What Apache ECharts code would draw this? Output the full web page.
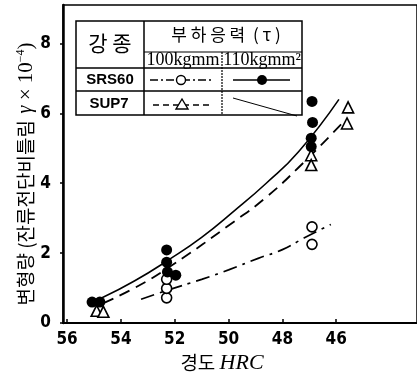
<!DOCTYPE html>
<html>
<head>
<meta charset="utf-8">
<script src="https://cdn.jsdelivr.net/npm/echarts@6/dist/echarts.min.js"></script>
<style>
  html, body { margin: 0; padding: 0; background: #fff; }
  #chart { width: 417px; height: 378px; }
</style>
</head>
<body>
<div id="chart"></div>
<script>
// hardness HRC (x) vs residual shear twist gamma x 10^-4 (y)
const xTicks = [56, 54, 52, 50, 48, 46]
const yTicks = [0, 2, 4, 6, 8]

// measured points
const srs60_100 = [[52.3, 0.72], [52.3, 0.99], [52.3, 1.25], [46.9, 2.75], [46.9, 2.25]]
const srs60_110 = [[55.07, 0.6], [54.78, 0.6], [52.3, 2.09], [52.3, 1.74], [52.27, 1.46], [51.96, 1.37],
    [46.9, 6.34], [46.88, 5.74], [46.93, 5.29], [46.93, 5.05]]
const sup7_100 = [[54.9, 0.35], [54.65, 0.32], [46.93, 4.8], [46.93, 4.52], [45.56, 6.17], [45.6, 5.71]]

// fitted curves
const curveSrs100 = [[53.25, 0.68], [52.3, 0.93], [51, 1.25], [50, 1.52], [48.9, 1.85], [48, 2.1], [47.2, 2.43], [46.2, 2.82]]
const curveSrs110 = [[54.7, 0.72], [53.5, 1.2], [52.2, 1.82], [51, 2.45], [49.8, 3.2], [48.6, 4.0], [47.4, 4.9], [45.9, 6.4]]
const curveSup7 = [[54.65, 0.57], [53.5, 1.0], [52.2, 1.6], [49.8, 2.9], [48.6, 3.6], [47.4, 4.45], [45.8, 5.7]]

const tickFont = "'Liberation Sans Narrow', 'DejaVu Sans Condensed', 'Liberation Sans', sans-serif"
const hangul = "'Noto Sans CJK KR', sans-serif"
const serif = "'Liberation Serif', 'DejaVu Serif', serif"

const chart = echarts.init(document.getElementById('chart'))

// small legend table drawn in the upper left of the plot
const tbl = { x0: 76, x1: 144, x2: 222, x3: 302, y0: 21, y1: 52, y2: 68, y3: 91, y4: 115 }
const ln = (x1, y1, x2, y2, w, dash) => ({
    type: 'line', shape: { x1, y1, x2, y2 },
    style: { stroke: '#000', lineWidth: w || 1.2, lineDash: dash || null }, z: 10
})
const txt = (x, y, text, font, extra) => ({
    type: 'text', x, y, z: 10,
    style: Object.assign({ text, font, fill: '#000', align: 'center', verticalAlign: 'middle' }, extra || {})
})

const legendGraphics = [
    { type: 'rect', shape: { x: tbl.x0, y: tbl.y0, width: tbl.x3 - tbl.x0, height: tbl.y4 - tbl.y0 },
        style: { fill: '#fff', stroke: '#000', lineWidth: 1.5 }, z: 9 },
    ln(tbl.x1, tbl.y0, tbl.x1, tbl.y4, 1.5),
    ln(tbl.x1, tbl.y1, tbl.x3, tbl.y1),
    ln(tbl.x2, tbl.y1, tbl.x2, tbl.y4, 1.2, [2, 1]),
    ln(tbl.x0, tbl.y2, tbl.x3, tbl.y2, 1.5),
    ln(tbl.x0, tbl.y3, tbl.x3, tbl.y3, 1.5),
    txt(110, 43, '강 종', '400 21px ' + hangul),
    txt(226, 35, '부 하 응 력  ( τ )', '400 17px ' + hangul),
    txt(183, 60, '100kgmm', '400 18px ' + serif),
    txt(262, 60, '110kgmm²', '400 18px ' + serif),
    txt(110, 80, 'SRS60', 'bold 15px ' + "'Liberation Sans', sans-serif"),
    txt(109, 104, 'SUP7', 'bold 15px ' + "'Liberation Sans', sans-serif"),
    // SRS60 100 : dash-dot with open circle
    ln(150, 80, 212, 80, 1.4, [8, 3, 2, 3]),
    { type: 'circle', shape: { cx: 181, cy: 80, r: 4.5 }, style: { fill: '#fff', stroke: '#000', lineWidth: 1.4 }, z: 11 },
    // SRS60 110 : solid with filled circle
    ln(233, 80, 290, 80, 1.4),
    { type: 'circle', shape: { cx: 262, cy: 80, r: 5 }, style: { fill: '#000' }, z: 11 },
    // SUP7 100 : dashed with triangle
    ln(153, 105, 212, 105, 1.4, [6, 4]),
    { type: 'polygon', shape: { points: [[182, 99], [176, 109], [188, 109]] },
        style: { fill: '#fff', stroke: '#000', lineWidth: 1.4 }, z: 11 },
    // SUP7 110 : thin slanted stroke
    ln(233, 98, 297, 116, 1)
]

const option = {
    backgroundColor: '#fff',
    animation: false,
    grid: {
        left: 63, top: 5, right: 0, bottom: 55,
        show: true, borderColor: '#000', borderWidth: 1.5
    },
    xAxis: {
        type: 'value',
        inverse: true,
        min: 43,
        max: 56.15,
        axisLine: { lineStyle: { color: '#000', width: 2 } },
        axisTick: { inside: true, length: 4, customValues: xTicks, lineStyle: { color: '#000', width: 1.5 } },
        splitLine: { show: false },
        axisLabel: {
            margin: 8,
            color: '#000',
            fontFamily: tickFont,
            fontWeight: 'bold',
            fontSize: 17,
            customValues: xTicks
        }
    },
    yAxis: {
        type: 'value',
        min: 0,
        max: 9.1,
        axisLine: { lineStyle: { color: '#000', width: 2.5 } },
        axisTick: { length: 3, customValues: yTicks, lineStyle: { color: '#000', width: 1.5 } },
        splitLine: { show: false },
        axisLabel: {
            margin: 12,
            color: '#000',
            fontFamily: tickFont,
            fontWeight: 'bold',
            fontSize: 17,
            customValues: yTicks
        }
    },
    series: [
        {
            name: 'SRS60 100 fit', type: 'line', data: curveSrs100, smooth: true, showSymbol: false,
            lineStyle: { color: '#000', width: 1.7, type: [14, 6, 3, 6] }
        },
        {
            name: 'SRS60 110 fit', type: 'line', data: curveSrs110, smooth: true, showSymbol: false,
            lineStyle: { color: '#000', width: 1.6 }
        },
        {
            name: 'SUP7 100 fit', type: 'line', data: curveSup7, smooth: true, showSymbol: false,
            lineStyle: { color: '#000', width: 1.8, type: [11, 7] }
        },
        {
            name: 'SRS60 100', type: 'scatter', data: srs60_100, symbol: 'circle', symbolSize: 10, z: 5,
            itemStyle: { color: '#fff', borderColor: '#000', borderWidth: 1.6, opacity: 1 }
        },
        {
            name: 'SUP7 100', type: 'scatter', data: sup7_100, symbol: 'triangle', symbolSize: 11, z: 5,
            itemStyle: { color: '#fff', borderColor: '#000', borderWidth: 1.6, opacity: 1 }
        },
        {
            name: 'SRS60 110', type: 'scatter', data: srs60_110, symbol: 'circle', symbolSize: 11, z: 6,
            itemStyle: { color: '#000', opacity: 1 }
        }
    ],
    graphic: legendGraphics.concat([
        // y axis title
        {
            type: 'text', x: 26, y: 174, rotation: Math.PI / 2,
            style: {
                text: '{h|변형량 (잔류전단비틀림}  {g|γ}{m| × 10}{s|−4}{m|)}',
                align: 'center', verticalAlign: 'middle', fill: '#000',
                rich: {
                    h: { fontFamily: hangul, fontSize: 19, fill: '#000' },
                    g: { fontFamily: serif, fontStyle: 'italic', fontSize: 20, fill: '#000' },
                    m: { fontFamily: serif, fontSize: 21, fill: '#000' },
                    s: { fontFamily: serif, fontSize: 12, fill: '#000', verticalAlign: 'top', padding: [0, 0, 10, 0] }
                }
            }
        },
        // x axis title
        {
            type: 'text', x: 222, y: 363,
            style: {
                text: '{h|경도 }{i|HRC}',
                align: 'center', verticalAlign: 'middle', fill: '#000',
                rich: {
                    h: { fontFamily: hangul, fontSize: 19, fill: '#000' },
                    i: { fontFamily: serif, fontStyle: 'italic', fontSize: 22, fill: '#000' }
                }
            }
        }
    ])
}

chart.setOption(option)
</script>
</body>
</html>
